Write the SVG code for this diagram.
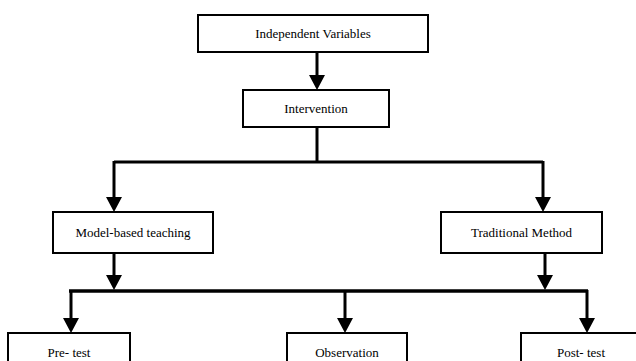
<svg xmlns="http://www.w3.org/2000/svg" width="636" height="361" viewBox="0 0 636 361">
<style>
.box{fill:#fff;stroke:#000;stroke-width:2}
.lbl{font-family:"Liberation Serif","Times New Roman",serif;font-size:13px;fill:#000;text-anchor:middle}
.ln{fill:none;stroke:#000;stroke-width:3}
.ln2{fill:none;stroke:#000;stroke-width:3.5}
</style>
<defs>
<marker id="ah" viewBox="0 0 15 16" refX="0" refY="8" markerWidth="15" markerHeight="16" markerUnits="userSpaceOnUse" orient="auto">
<path d="M0,0 L15,8 L0,16 Z" fill="#000"/>
</marker>
</defs>
<rect width="636" height="361" fill="#fff"/>
<g id="connectors">
<path class="ln" d="M317,52 V75" marker-end="url(#ah)"/>
<path class="ln" d="M317,127 V162"/>
<path class="ln" d="M114,162 H543"/>
<path class="ln" d="M114,161 V197" marker-end="url(#ah)"/>
<path class="ln" d="M543,161 V197" marker-end="url(#ah)"/>
<path class="ln" d="M114,253 V275" marker-end="url(#ah)"/>
<path class="ln" d="M545,253 V275" marker-end="url(#ah)"/>
<path class="ln2" d="M69,291 H588"/>
<path class="ln" d="M71,290 V318" marker-end="url(#ah)"/>
<path class="ln" d="M345,290 V318" marker-end="url(#ah)"/>
<path class="ln" d="M587,290 V318" marker-end="url(#ah)"/>
</g>
<g id="independent">
<rect class="box" x="198" y="15" width="230" height="37"/>
<text class="lbl" x="313" y="38">Independent Variables</text>
</g>
<g id="intervention">
<rect class="box" x="243" y="90" width="146" height="37"/>
<text class="lbl" x="316" y="113">Intervention</text>
</g>
<g id="model-based">
<rect class="box" x="53" y="212" width="160" height="41"/>
<text class="lbl" x="133" y="237">Model-based teaching</text>
</g>
<g id="traditional">
<rect class="box" x="441" y="212" width="161" height="41"/>
<text class="lbl" x="521.5" y="237">Traditional Method</text>
</g>
<g id="pretest">
<rect class="box" x="8" y="333" width="122" height="40"/>
<text class="lbl" x="69" y="357">Pre- test</text>
</g>
<g id="observation">
<rect class="box" x="287" y="333" width="120" height="40"/>
<text class="lbl" x="347" y="357">Observation</text>
</g>
<g id="posttest">
<rect class="box" x="521" y="333" width="120" height="40"/>
<text class="lbl" x="581" y="357">Post- test</text>
</g>
</svg>
